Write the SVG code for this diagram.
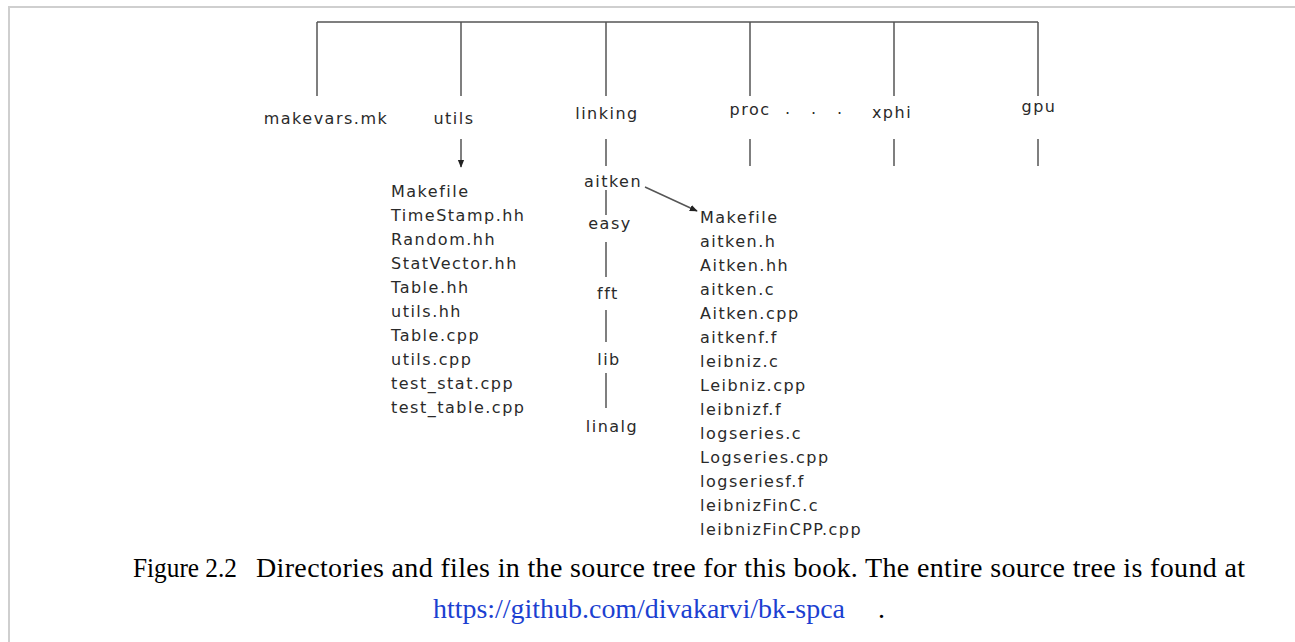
<svg xmlns="http://www.w3.org/2000/svg" width="1295" height="642" viewBox="0 0 1295 642">
<style>
.t{font-family:"DejaVu Sans","Liberation Sans",sans-serif;font-size:16px;fill:#2a2a2a;letter-spacing:1.5px}
.m{text-anchor:middle}
.c{stroke:#555;stroke-width:1.5;fill:none}
.cap{font-family:"Liberation Serif","Times New Roman",serif;font-size:28px;fill:#000}
.lnk{fill:#1c3fd1}
.frame{stroke:#cfcfcf;stroke-width:2;fill:none}
</style>
<defs>
<marker id="ah" viewBox="0 0 10 10" refX="9" refY="5" markerWidth="8" markerHeight="8" markerUnits="userSpaceOnUse" orient="auto">
<path d="M0,1 L10,5 L0,9 Z" fill="#222"/>
</marker>
</defs>
<rect width="1295" height="642" fill="#fff"/>
<path class="frame" d="M9,642 V7 H1295"/>
<g id="connectors">
<path class="c" d="M317,22 H1038"/>
<path class="c" d="M317,22 V96 M461,22 V96 M606,22 V96 M750,22 V96 M894,22 V96 M1038,22 V96"/>
<path class="c" d="M606,139 V166 M606,190 V215 M606,242 V277 M606,310 V342 M606,373 V408"/>
<path class="c" d="M750,139 V166 M894,139 V166 M1038,139 V166"/>
<path class="c" d="M461,139 V167" marker-end="url(#ah)"/>
<path class="c" d="M645,187 L697,211" marker-end="url(#ah)"/>
</g>
<g id="makevars"><text class="t m" x="326" y="124">makevars.mk</text></g>
<g id="utils"><text class="t m" x="454" y="124">utils</text></g>
<g id="linking"><text class="t m" x="607" y="119">linking</text></g>
<g id="proc"><text class="t m" x="750" y="114.5">proc</text></g>
<g id="dots"><text class="t" x="785 811 837" y="114">...</text></g>
<g id="xphi"><text class="t m" x="892" y="117.5">xphi</text></g>
<g id="gpu"><text class="t m" x="1039" y="112">gpu</text></g>
<g id="aitken"><text class="t m" x="613" y="187">aitken</text></g>
<g id="easy"><text class="t m" x="610" y="228.5">easy</text></g>
<g id="fft"><text class="t m" x="608" y="299">fft</text></g>
<g id="lib"><text class="t m" x="609" y="365">lib</text></g>
<g id="linalg"><text class="t m" x="612" y="432">linalg</text></g>
<g id="utils-files">
<text class="t" x="391" y="196.5">Makefile</text>
<text class="t" x="391" y="220.5">TimeStamp.hh</text>
<text class="t" x="391" y="244.5">Random.hh</text>
<text class="t" x="391" y="268.5">StatVector.hh</text>
<text class="t" x="391" y="292.5">Table.hh</text>
<text class="t" x="391" y="316.5">utils.hh</text>
<text class="t" x="391" y="340.5">Table.cpp</text>
<text class="t" x="391" y="364.5">utils.cpp</text>
<text class="t" x="391" y="388.5">test_stat.cpp</text>
<text class="t" x="391" y="412.5">test_table.cpp</text>
</g>
<g id="aitken-files">
<text class="t" x="700" y="223">Makefile</text>
<text class="t" x="700" y="247">aitken.h</text>
<text class="t" x="700" y="271">Aitken.hh</text>
<text class="t" x="700" y="295">aitken.c</text>
<text class="t" x="700" y="319">Aitken.cpp</text>
<text class="t" x="700" y="343">aitkenf.f</text>
<text class="t" x="700" y="367">leibniz.c</text>
<text class="t" x="700" y="391">Leibniz.cpp</text>
<text class="t" x="700" y="415">leibnizf.f</text>
<text class="t" x="700" y="439">logseries.c</text>
<text class="t" x="700" y="463">Logseries.cpp</text>
<text class="t" x="700" y="487">logseriesf.f</text>
<text class="t" x="700" y="511">leibnizFinC.c</text>
<text class="t" x="700" y="535">leibnizFinCPP.cpp</text>
</g>
<g id="caption">
<text class="cap" x="133" y="577" textLength="104" lengthAdjust="spacingAndGlyphs">Figure 2.2</text>
<text class="cap" x="256" y="577" textLength="989" lengthAdjust="spacing">Directories and files in the source tree for this book. The entire source tree is found at</text>
<text class="cap lnk" x="433" y="618" textLength="412" lengthAdjust="spacingAndGlyphs">https://github.com/divakarvi/bk-spca</text>
<text class="cap" x="878" y="618">.</text>
</g>
</svg>
